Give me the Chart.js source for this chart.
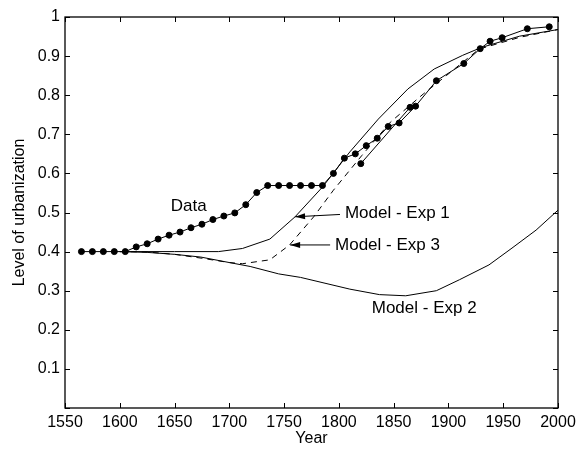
<!DOCTYPE html>
<html>
<head>
<meta charset="utf-8">
<script src="https://cdn.jsdelivr.net/npm/chart.js@4"></script>
<style>
  body { margin: 0; background: #fff; }
  canvas { display: block; }
</style>
</head>
<body>
<canvas id="chart" width="582" height="453"></canvas>
<script>
// Observed urbanization data (dots)
const dataYears = [1565, 1575, 1585, 1595, 1605, 1615, 1625, 1635, 1645, 1655, 1665, 1675, 1685, 1695, 1705,
  1715, 1725, 1735, 1745, 1755, 1765, 1775, 1785, 1795, 1805, 1815, 1825, 1835, 1845, 1855, 1870, 1889,
  1914, 1929, 1938, 1949, 1972, 1992];
const dataLevel = [0.4, 0.4, 0.4, 0.4, 0.4, 0.412, 0.42, 0.432, 0.442, 0.45, 0.461, 0.47, 0.482, 0.491, 0.499,
  0.52, 0.551, 0.569, 0.569, 0.569, 0.569, 0.569, 0.569, 0.6, 0.639, 0.65, 0.671, 0.69, 0.72, 0.729, 0.772, 0.837,
  0.881, 0.919, 0.938, 0.947, 0.97, 0.975];
// second data segment
const dataYears2 = [1820, 1865];
const dataLevel2 = [0.625, 0.769];

// Model runs
const exp1Years = [1600, 1650, 1690, 1712, 1737, 1760, 1785, 1810, 1836, 1863, 1887, 1913, 1930, 1965, 2000];
const exp1Level = [0.4, 0.4, 0.4, 0.408, 0.432, 0.489, 0.565, 0.655, 0.739, 0.816, 0.867, 0.902, 0.922, 0.951, 0.968];

const exp2Years = [1600, 1625, 1650, 1674, 1700, 1719, 1745, 1765, 1810, 1837, 1861, 1889, 1910, 1937, 1958, 1980, 2000];
const exp2Level = [0.4, 0.398, 0.393, 0.386, 0.372, 0.362, 0.343, 0.334, 0.304, 0.29, 0.287, 0.3, 0.328, 0.366, 0.409, 0.455, 0.506];

const exp3Years = [1600, 1625, 1650, 1675, 1700, 1712, 1737, 1755, 1777, 1795, 1821, 1847, 1877, 1898, 1928, 1965, 2000];
const exp3Level = [0.4, 0.399, 0.393, 0.383, 0.372, 0.369, 0.379, 0.417, 0.489, 0.557, 0.646, 0.731, 0.803, 0.85, 0.918, 0.948, 0.968];

// text labels in the plot (year, level) and arrows (from -> to)
const labels = [
  { text: 'Data', x: 1663, y: 0.515, align: 'center' },
  { text: 'Model - Exp 1', x: 1805.5, y: 0.497, align: 'left' },
  { text: 'Model - Exp 3', x: 1796.5, y: 0.415, align: 'left' },
  { text: 'Model - Exp 2', x: 1830, y: 0.255, align: 'left' }
];
const arrows = [
  { x0: 1801, y0: 0.495, x1: 1760, y1: 0.489 },
  { x0: 1792, y0: 0.417, x1: 1755.5, y1: 0.417 }
];

const FONT = '"Liberation Sans", Arial, sans-serif';

function xy(xs, ys) {
  return xs.map((v, i) => ({ x: v, y: ys[i] }));
}

const lineStyle = {
  showLine: true,
  borderColor: '#000',
  backgroundColor: '#000',
  borderWidth: 1,
  pointRadius: 0,
  tension: 0
};

const framePlugin = {
  id: 'frame',
  afterDraw(chart) {
    const { ctx, chartArea: a, scales } = chart;
    const xs = scales.x, ys = scales.y;
    ctx.save();
    ctx.strokeStyle = '#000';
    ctx.lineWidth = 1.3;
    ctx.strokeRect(a.left, a.top, a.right - a.left, a.bottom - a.top);
    ctx.lineWidth = 1;
    ctx.beginPath();
    xs.ticks.forEach(t => {
      const px = Math.round(xs.getPixelForValue(t.value)) + 0.5;
      ctx.moveTo(px, a.bottom); ctx.lineTo(px, a.bottom - 5);
      ctx.moveTo(px, a.top); ctx.lineTo(px, a.top + 5);
    });
    ys.ticks.forEach(t => {
      const py = Math.round(ys.getPixelForValue(t.value)) + 0.5;
      ctx.moveTo(a.left, py); ctx.lineTo(a.left + 5, py);
      ctx.moveTo(a.right, py); ctx.lineTo(a.right - 5, py);
    });
    ctx.stroke();

    // annotations
    ctx.fillStyle = '#000';
    ctx.font = '17px ' + FONT;
    ctx.textBaseline = 'middle';
    labels.forEach(l => {
      ctx.textAlign = l.align;
      ctx.fillText(l.text, xs.getPixelForValue(l.x), ys.getPixelForValue(l.y));
    });
    arrows.forEach(ar => {
      const x0 = xs.getPixelForValue(ar.x0), y0 = ys.getPixelForValue(ar.y0);
      const x1 = xs.getPixelForValue(ar.x1), y1 = ys.getPixelForValue(ar.y1);
      const ang = Math.atan2(y1 - y0, x1 - x0);
      ctx.beginPath();
      ctx.moveTo(x0, y0); ctx.lineTo(x1, y1);
      ctx.stroke();
      ctx.beginPath();
      ctx.moveTo(x1, y1);
      ctx.lineTo(x1 - 10 * Math.cos(ang) + 3 * Math.sin(ang), y1 - 10 * Math.sin(ang) - 3 * Math.cos(ang));
      ctx.lineTo(x1 - 10 * Math.cos(ang) - 3 * Math.sin(ang), y1 - 10 * Math.sin(ang) + 3 * Math.cos(ang));
      ctx.closePath();
      ctx.fill();
    });
    ctx.restore();
  }
};

new Chart(document.getElementById('chart'), {
  type: 'scatter',
  data: {
    datasets: [
      Object.assign({}, lineStyle, { label: 'Model - Exp 1', data: xy(exp1Years, exp1Level) }),
      Object.assign({}, lineStyle, { label: 'Model - Exp 2', data: xy(exp2Years, exp2Level) }),
      Object.assign({}, lineStyle, { label: 'Model - Exp 3', data: xy(exp3Years, exp3Level), borderDash: [6, 5] }),
      {
        label: 'Data', data: xy(dataYears, dataLevel), showLine: true, borderColor: '#000',
        backgroundColor: '#000', borderWidth: 1, pointRadius: 3, tension: 0
      },
      {
        label: 'Data 2', data: xy(dataYears2, dataLevel2), showLine: true, borderColor: '#000',
        backgroundColor: '#000', borderWidth: 1, pointRadius: 3, tension: 0
      }
    ]
  },
  options: {
    responsive: false,
    animation: false,
    devicePixelRatio: 1,
    layout: { padding: { top: 17, right: 24, left: 0, bottom: 0 } },
    plugins: { legend: { display: false }, tooltip: { enabled: false } },
    scales: {
      x: {
        type: 'linear',
        min: 1550, max: 2000,
        grid: { display: false, drawTicks: false },
        border: { display: false },
        ticks: { stepSize: 50, padding: 5, color: '#000', font: { family: FONT, size: 16 }, callback: v => String(v) },
        title: { display: true, text: 'Year', color: '#000', font: { family: FONT, size: 16 }, padding: { top: 0, bottom: 5 } },
        afterFit: s => { s.height = 45; }
      },
      y: {
        min: 0, max: 1,
        grid: { display: false, drawTicks: false },
        border: { display: false },
        ticks: {
          stepSize: 0.1, padding: 5, color: '#000', font: { family: FONT, size: 16 },
          callback: v => (v === 0 ? '' : (Math.round(v * 10) / 10).toString())
        },
        title: { display: true, text: 'Level of urbanization', color: '#000', font: { family: FONT, size: 16 }, padding: { top: 10, bottom: 0 } },
        afterFit: s => { s.width = 65; }
      }
    }
  },
  plugins: [framePlugin]
});
</script>
</body>
</html>
